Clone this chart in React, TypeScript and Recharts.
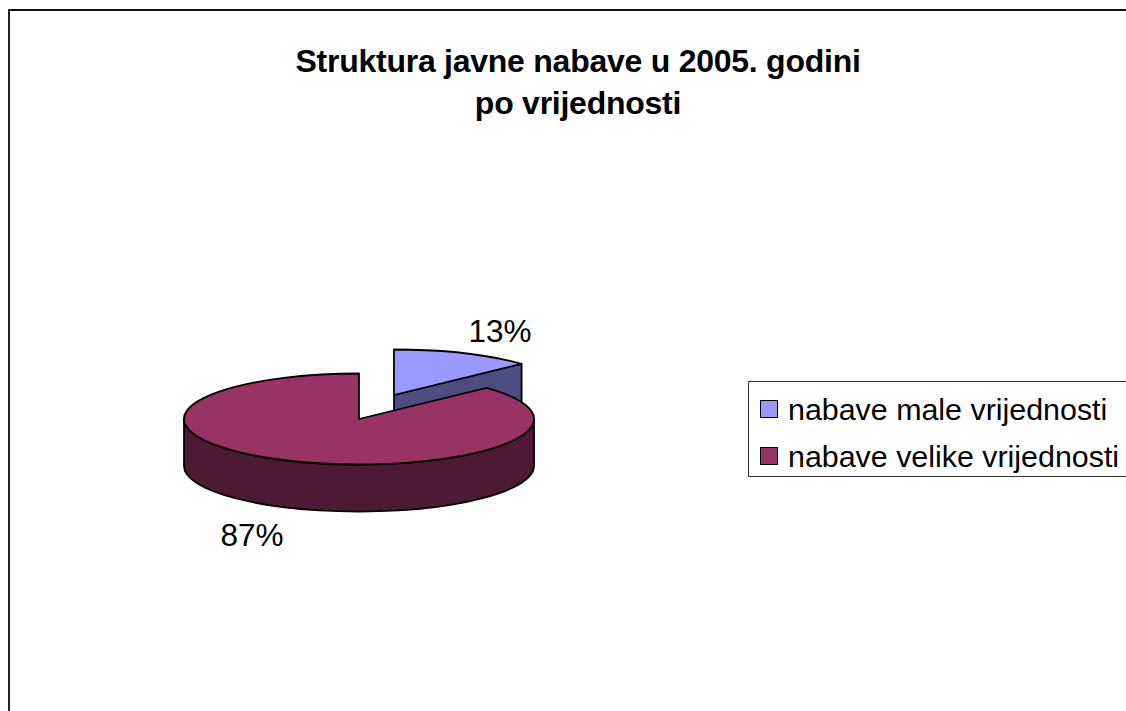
import { PieChart, Pie, Cell, Legend } from "recharts";

const categories = ["nabave male vrijednosti", "nabave velike vrijednosti"];
const shares = [13, 87];
const titleLines = ["Struktura javne nabave u 2005. godini", "po vrijednosti"];

const TOP_COLORS = ["#9999ff", "#993366"];
const WALL_COLORS = ["#4d4d80", "#4d1a33"];

const FONT = "'Liberation Sans', Arial, sans-serif";
const SQUASH = 0.26; // ellipse height / width of the tilted pie
const DEPTH = 47;
const OFFSETS = [{ dx: 35, dy: -24 }, { dx: 0, dy: 0 }]; // small slice is pulled out
const LABEL_POS = [{ x: 500, y: 342 }, { x: 252, y: 546 }];

const chartData = categories.map((name, i) => ({ name, value: shares[i] }));

const rad = (a: number) => (a * Math.PI) / 180;

// Pie sector squashed to an ellipse, with the side wall under it
function TiltedSlice(props: any) {
  const { cx, cy, outerRadius, startAngle, endAngle, fill } = props;
  const i = TOP_COLORS.indexOf(fill);
  const { dx, dy } = OFFSETS[i];
  const rx = outerRadius;
  const ry = outerRadius * SQUASH;
  const px = (a: number) => cx + dx + rx * Math.cos(rad(a));
  const py = (a: number) => cy + dy - ry * Math.sin(rad(a));
  const large = Math.abs(startAngle - endAngle) > 180 ? 1 : 0;
  const ax = cx + dx;
  const ay = cy + dy;

  const top = `M${ax},${ay} L${px(startAngle)},${py(startAngle)} A${rx},${ry} 0 ${large} 1 ${px(endAngle)},${py(endAngle)} Z`;

  // outer wall is only seen on the front half (0 to -180 degrees)
  const from = Math.min(startAngle, 0);
  const to = Math.max(endAngle, -180);
  const arcWall =
    from > to
      ? `M${px(from)},${py(from)} A${rx},${ry} 0 0 1 ${px(to)},${py(to)} L${px(to)},${py(to) + DEPTH} A${rx},${ry} 0 0 0 ${px(from)},${py(from) + DEPTH} Z`
      : null;
  // cut face of the pulled-out slice
  const cutWall =
    dx !== 0
      ? `M${ax},${ay} L${px(endAngle)},${py(endAngle)} L${px(endAngle)},${py(endAngle) + DEPTH} L${ax},${ay + DEPTH} Z`
      : null;

  return (
    <g stroke="#000" strokeWidth={1.8} strokeLinejoin="round">
      {cutWall && <path d={cutWall} fill={WALL_COLORS[i]} />}
      {arcWall && <path d={arcWall} fill={WALL_COLORS[i]} />}
      <path d={top} fill={fill} />
    </g>
  );
}

function renderLabel(props: any) {
  const pos = LABEL_POS[props.index];
  return (
    <text x={pos.x} y={pos.y} textAnchor="middle" fontFamily={FONT} fontSize={31.5} fill="#000">
      {`${shares[props.index]}%`}
    </text>
  );
}

function renderLegend(props: any) {
  return (
    <div
      style={{
        boxSizing: "border-box",
        width: 400,
        height: 96,
        border: "1.5px solid #333",
        background: "#fff",
        fontFamily: FONT,
        fontSize: 30.4,
        color: "#000",
      }}
    >
      {props.payload.map((item: any, i: number) => (
        <div key={item.value} style={{ position: "absolute", left: 12, top: 5 + i * 47, height: 46, display: "flex", alignItems: "center", whiteSpace: "nowrap" }}>
          <span style={{ boxSizing: "border-box", width: 18, height: 18, marginRight: 10, background: item.color, border: "1.8px solid #000" }} />
          {item.value}
        </div>
      ))}
    </div>
  );
}

export default function App() {
  return (
    <div style={{ position: "absolute", left: 0, top: 0, width: 1126, height: 711, overflow: "hidden", background: "#fff" }}>
      <div style={{ position: "absolute", left: 8, top: 9, width: 1200, height: 800, borderLeft: "2px solid #222", borderTop: "2px solid #111" }} />
      <div style={{ position: "absolute", left: 0, top: 0 }}>
        <PieChart width={1126} height={711} margin={{ top: 0, right: 0, bottom: 0, left: 0 }}>
          <text x={578} y={72} textAnchor="middle" fontFamily={FONT} fontSize={32} fontWeight="bold" letterSpacing={-0.25} fill="#000">
            {titleLines[0]}
          </text>
          <text x={578} y={114} textAnchor="middle" fontFamily={FONT} fontSize={32} fontWeight="bold" letterSpacing={-0.25} fill="#000">
            {titleLines[1]}
          </text>
          <Pie
            data={chartData}
            dataKey="value"
            nameKey="name"
            cx={359}
            cy={419}
            outerRadius={175}
            startAngle={90}
            endAngle={-270}
            stroke="#000"
            isAnimationActive={false}
            shape={TiltedSlice}
            label={renderLabel}
            labelLine={false}
          >
            {chartData.map((entry, i) => (
              <Cell key={entry.name} fill={TOP_COLORS[i]} />
            ))}
          </Pie>
          <Legend
            layout="vertical"
            align="right"
            verticalAlign="middle"
            content={renderLegend}
            wrapperStyle={{ position: "absolute", left: 748, top: 381, right: "auto", bottom: "auto", width: 400, height: 96 }}
          />
        </PieChart>
      </div>
    </div>
  );
}
